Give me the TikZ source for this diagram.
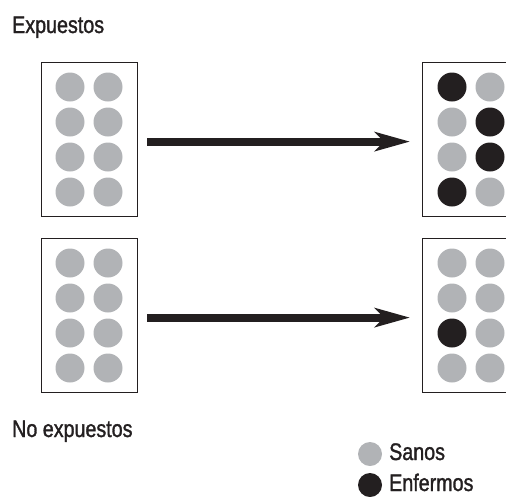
\documentclass[tikz,border=0pt]{standalone}
\usepackage{fontspec}
\setmainfont[FakeStretch=0.82, FakeBold=1.3]{Liberation Sans}
\usetikzlibrary{arrows.meta}
\definecolor{ink}{HTML}{231F20}
\definecolor{sano}{HTML}{B1B3B6}
\tikzset{
  box/.style={draw=ink, line width=1.2pt, minimum width=96pt, minimum height=154pt, inner sep=0pt, anchor=north west},
  dot/.style={circle, minimum size=29pt, inner sep=0pt, fill=sano},
  sick/.style={dot, fill=ink},
  legdot/.style={circle, minimum size=24pt, inner sep=0pt, fill=sano},
  legsick/.style={legdot, fill=ink},
  lbl/.style={text=ink, inner sep=0pt, anchor=base west, font=\fontsize{24pt}{28pt}\selectfont},
  bigarrow/.style={draw=ink, line width=8pt, -{Stealth[length=35pt, width=19pt, inset=9pt]}, shorten <=9pt, shorten >=12pt}
}
\begin{document}
\begin{tikzpicture}[x=1pt, y=-1pt]
\useasboundingbox (0,0) rectangle (506,496);
\clip (0,0) rectangle (506,496);
% titles
\node[lbl] (exp) at (12,33) {Expuestos};
\node[lbl] (noexp) at (12,437) {No expuestos};
% boxes
\node[box] (lt) at (41,62) {};
\node[box] (rt) at (422,62) {};
\node[box] (lb) at (41,238) {};
\node[box] (rb) at (422,238) {};
% left circles
\foreach \r [count=\i] in {0,35,70,105} {
  \node[dot] (lta\i) at (70,87+\r) {};
  \node[dot] (ltb\i) at (108,87+\r) {};
  \node[dot] (lba\i) at (70,263+\r) {};
  \node[dot] (lbb\i) at (108,263+\r) {};
}
% right top
\node[sick] (rta1) at (452,87) {};
\node[dot]  (rtb1) at (490,87) {};
\node[dot]  (rta2) at (452,122) {};
\node[sick] (rtb2) at (490,122) {};
\node[dot]  (rta3) at (452,157) {};
\node[sick] (rtb3) at (490,157) {};
\node[sick] (rta4) at (452,192) {};
\node[dot]  (rtb4) at (490,192) {};
% right bottom
\node[dot]  (rba1) at (452,263) {};
\node[dot]  (rbb1) at (490,263) {};
\node[dot]  (rba2) at (452,298) {};
\node[dot]  (rbb2) at (490,298) {};
\node[sick] (rba3) at (452,333) {};
\node[dot]  (rbb3) at (490,333) {};
\node[dot]  (rba4) at (452,368) {};
\node[dot]  (rbb4) at (490,368) {};
% arrows
\draw[bigarrow] ([yshift=-2pt]lt.east) -- ([yshift=-2pt]lt.east -| rt.west);
\draw[bigarrow] ([yshift=-2pt]lb.east) -- ([yshift=-2pt]lb.east -| rb.west);
% legend
\node[legdot] (ls) at (370,454) {};
\node[legsick] (le) at (370,485) {};
\node[lbl] (lst) at (389,460) {Sanos};
\node[lbl] (let) at (389,491) {Enfermos};
\end{tikzpicture}
\end{document}
